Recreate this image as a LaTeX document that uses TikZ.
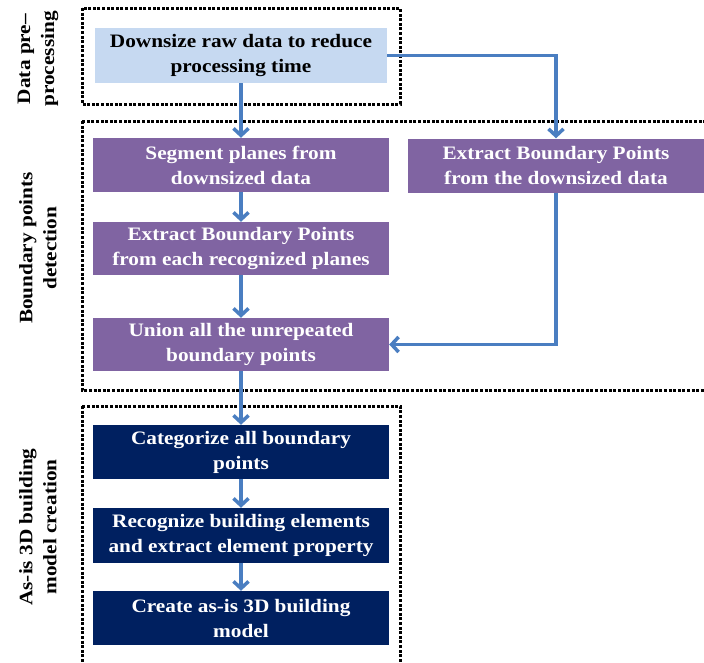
\documentclass[tikz,border=0pt]{standalone}
\usepackage{fontspec}
\setmainfont{Liberation Serif}[FakeStretch=1.12]
\usetikzlibrary{arrows.meta}
\definecolor{lblue}{RGB}{198,217,241}
\definecolor{purp}{RGB}{128,100,162}
\definecolor{navy}{RGB}{0,32,96}
\definecolor{arrc}{RGB}{74,126,193}
\begin{document}
\begin{tikzpicture}[x=1pt,y=-1pt,
  box/.style={minimum width=296pt, minimum height=54pt, inner sep=0pt, align=center,
    font=\bfseries\fontsize{19}{25}\selectfont},
  lightbox/.style={box, fill=lblue, text=black},
  purpbox/.style={box, fill=purp, text=white},
  navybox/.style={box, fill=navy, text=white},
  sidelabel/.style={rotate=90, align=center, font=\bfseries\fontsize{19}{24}\selectfont},
  dotbox/.style={draw=black, line width=3pt, dash pattern=on 3pt off 1.6pt},
  flow/.style={draw=arrc, line width=3.5pt, -{Straight Barb[length=7pt,width=15pt]}}
]
\useasboundingbox (0,0) rectangle (704,662);
\clip (0,0) rectangle (704,662);

% dotted group frames
\draw[dotbox] (82,8) rectangle (400,104);
\draw[dotbox] (82,121) rectangle (730,390);
\draw[dotbox] (82,406) rectangle (400,690);

% side labels
\node[sidelabel] (l1) at (38,59) {Data pre–\\processing};
\node[sidelabel] (l2) at (38,248) {Boundary points\\detection};
\node[sidelabel] (l3) at (38,527) {As-is 3D building\\model creation};

% boxes
\node[lightbox, minimum width=292pt, minimum height=55pt] (down) at (241,55.5) {Downsize raw data to reduce\\processing time};
\node[purpbox] (seg) at (241,165) {Segment planes from\\downsized data};
\node[purpbox] (ext2) at (556,165.5) {Extract Boundary Points\\from the downsized data};
\node[purpbox, minimum height=53pt] (ext1) at (241,248.5) {Extract Boundary Points\\from each recognized planes};
\node[purpbox, minimum height=53pt] (union) at (241,344.5) {Union all the unrepeated\\boundary points};
\node[navybox] (cat) at (241,452) {Categorize all boundary\\points};
\node[navybox, minimum height=55pt] (rec) at (241,535.5) {Recognize building elements\\and extract element property};
\node[navybox] (cre) at (241,618) {Create as-is 3D building\\model};

% connectors
\draw[flow] (down.south) -- (seg.north);
\draw[flow] (seg.south) -- (ext1.north);
\draw[flow] (ext1.south) -- (union.north);
\draw[flow] (union.south) -- (cat.north);
\draw[flow] (cat.south) -- (rec.north);
\draw[flow] (rec.south) -- (cre.north);
\draw[flow] (down.east) -| (ext2.north);
\draw[flow] (ext2.south) |- (union.east);
\end{tikzpicture}
\end{document}
